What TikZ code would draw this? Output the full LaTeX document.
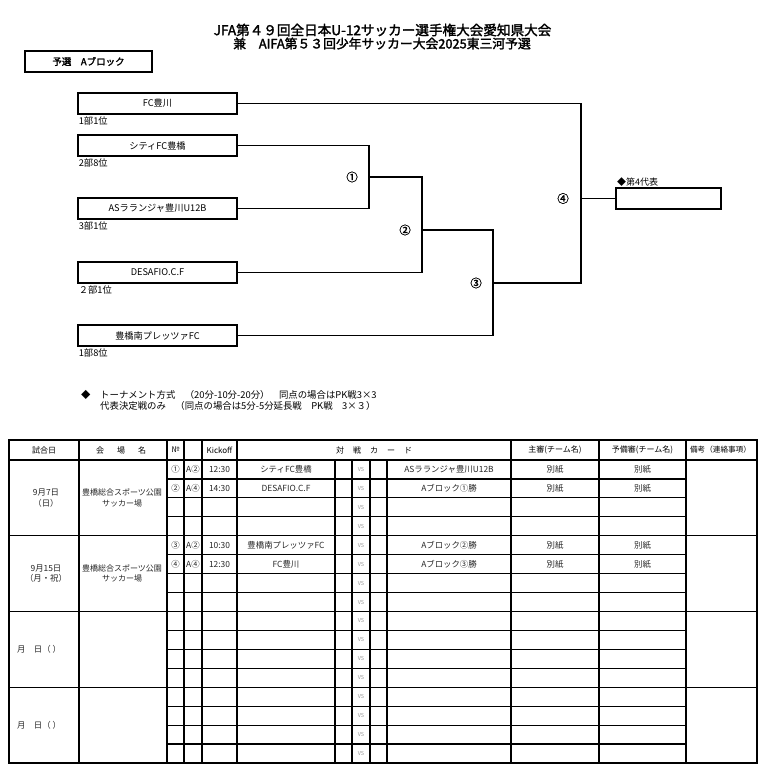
\documentclass[tikz,border=0pt]{standalone}
\usepackage{fontspec}
\setmainfont{Noto Sans CJK JP}[AutoFakeBold=2]
\usetikzlibrary{positioning,calc}

\begin{document}
\begin{tikzpicture}[x=1pt, y=-1pt, every node/.style={font=\fontsize{8}{10}\selectfont, inner sep=0pt},
  title/.style={font=\bfseries\fontsize{13.6}{14}\selectfont},
  teambox/.style={draw, line width=1.8pt, minimum width=159pt, minimum height=21pt, font=\fontsize{9.2}{10}\selectfont},
  rank/.style={font=\fontsize{9.3}{10}\selectfont, anchor=north west},
  num/.style={font=\bfseries\fontsize{11.5}{12}\selectfont},
  note/.style={font=\fontsize{9.4}{10}\selectfont, anchor=west},
  bline/.style={line width=1.8pt},
  grid/.style={line width=1.2pt},
  cell/.style={text=black!85, font=\fontsize{8.4}{10.5}\selectfont},
  venue/.style={cell, align=center, font=\fontsize{8}{10.5}\selectfont},
  vs/.style={text=black!40, font=\fontsize{5.5}{6}\selectfont}]
\useasboundingbox (0,0) rectangle (760,767);

% title
\node[title] (title1) at (382.5,30) {JFA第４９回全日本U-12サッカー選手権大会愛知県大会};
\node[title, font=\bfseries\fontsize{12.8}{14}\selectfont] (title2) at (382,43.5) {兼　AIFA第５３回少年サッカー大会2025東三河予選};
\node[draw, line width=1.5pt, minimum width=127pt, minimum height=21pt, font=\bfseries\fontsize{9.5}{10}\selectfont] (block) at (88.5,61.5) {予選　Aブロック};

% teams
\foreach \i/\y/\team/\rk in {1/103.5/FC豊川/1部1位, 2/145.5/シティFC豊橋/2部8位, 3/208.5/ASラランジャ豊川U12B/3部1位, 4/272.5/DESAFIO.C.F/２部1位, 5/335.5/豊橋南プレッツァFC/1部8位}{
  \node[teambox] (t\i) at (157.5,\y) {\team};
  \node[rank, below right=1.5pt and 1.5pt of t\i.south west] (r\i) {\rk};
}

% bracket
\coordinate (m1) at (369,177);
\coordinate (m2) at (422,230);
\coordinate (m3) at (493,283);
\coordinate (m4) at (581,198.5);
\node[teambox, minimum width=105pt] (winner) at (668.5,198.5) {};
\node[rank, anchor=south west, font=\fontsize{9}{10}\selectfont] (wlabel) at (617,187) {◆第4代表};
\draw[bline] (t2.east) -| (m1) |- (t3.east);
\draw[bline] (m1) -| (m2) |- (t4.east);
\draw[bline] (m2) -| (m3) |- (t5.east);
\draw[bline] (m3) -| (m4) |- (t1.east);
\draw[bline] (m4) -- (winner);
\node[num, left=11pt of m1] (n1) {①};
\node[num, left=11pt of m2] (n2) {②};
\node[num, left=11pt of m3] (n3) {③};
\node[num, left=12pt of m4] (n4) {④};

% notes
\node[note] (dia) at (81,394.5) {◆};
\node[note] (note1) at (100,394.5) {トーナメント方式　（20分-10分-20分）　同点の場合はPK戦3×3};
\node[note] (note2) at (100,406) {代表決定戦のみ　（同点の場合は5分-5分延長戦　PK戦　3×３）};

% table
\draw[line width=2.6pt] (9,440) rectangle (757,763);
\foreach \x in {79,167,184,202,237,511,599,686} \draw[grid] (\x,440) -- (\x,763);
\foreach \x in {335,352,370,387} \draw[grid] (\x,460) -- (\x,763);
\foreach \g in {460,535.75,611.5,687.25} \draw[grid] (9,\g) -- (757,\g);
\foreach \g in {460,535.75,611.5,687.25} \foreach \k in {1,2,3} \draw[grid] (167,\g+18.9375*\k) -- (686,\g+18.9375*\k);

\node (h1) at (44,450) {試合日};
\node (h2) at (121,450) {会\hspace{13pt}場\hspace{13pt}名};
\node (h3) at (175.5,450) {№};
\node (h4) at (219.5,450) {Kickoff};
\node (h5) at (374,450) {対\hspace{9pt}戦\hspace{9pt}カ\hspace{9pt}ー\hspace{9pt}ド};
\node (h6) at (555,450) {主審(チーム名)};
\node (h7) at (642.5,450) {予備審(チーム名)};
\node[font=\fontsize{7.6}{9}\selectfont] (h8) at (720.5,450) {備考（連絡事項）};

\foreach \r/\no/\ab/\ko/\ta/\tb in {1/①/A②/12:30/シティFC豊橋/ASラランジャ豊川U12B, 2/②/A④/14:30/DESAFIO.C.F/Aブロック①勝, 5/③/A②/10:30/豊橋南プレッツァFC/Aブロック②勝, 6/④/A④/12:30/FC豊川/Aブロック③勝}{
  \pgfmathsetmacro\yy{460+18.9375*(\r-0.5)}
  \node[cell] (no\r) at (175.5,\yy) {\no};
  \node[cell] (ab\r) at (193,\yy) {\ab};
  \node[cell] (ko\r) at (219.5,\yy) {\ko};
  \node[cell] (ta\r) at (286,\yy) {\ta};
  \node[cell] (tb\r) at (449,\yy) {\tb};
  \node[cell] (ref\r) at (555,\yy) {別紙};
  \node[cell] (sub\r) at (642.5,\yy) {別紙};
}
\foreach \r in {1,...,16} \node[vs] (vs\r) at (361,{460+18.9375*(\r-0.5)}) {VS};

\node[cell, align=center] (d1) at (46,497.9) {9月7日\\（日）};
\node[venue] (v1) at (122,497.9) {豊橋総合スポーツ公園\\サッカー場};
\node[cell, align=center] (d2) at (46,573.6) {9月15日\\（月・祝）};
\node[venue] (v2) at (122,573.6) {豊橋総合スポーツ公園\\サッカー場};
\node[cell] (d3) at (39,649.4) {月　日（ ）};
\node[cell] (d4) at (39,725.1) {月　日（ ）};
\end{tikzpicture}
\end{document}
